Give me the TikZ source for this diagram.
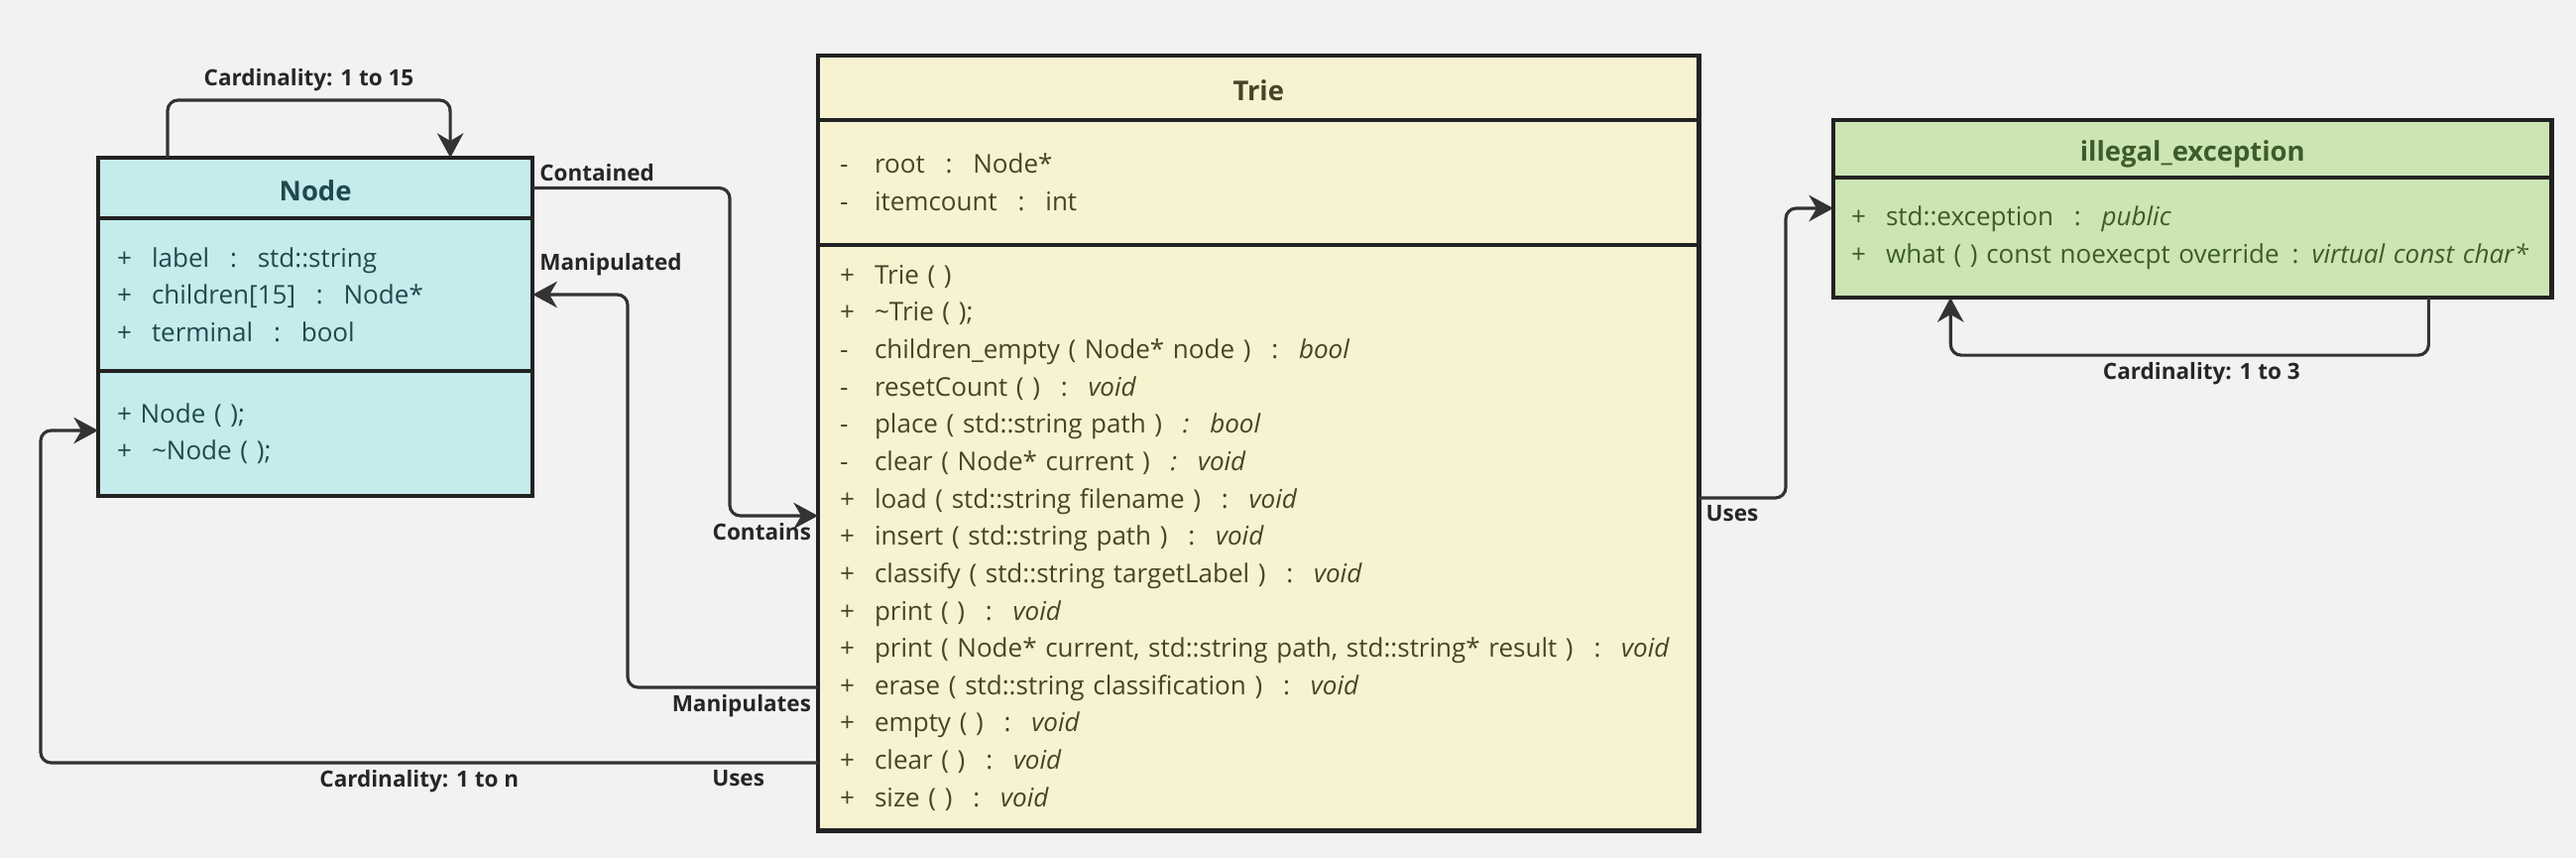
\documentclass[tikz,border=0pt]{standalone}
\usepackage{fontspec}
\setmainfont{Open Sans}
\usepackage{xcolor}
\usetikzlibrary{arrows.meta,positioning}

\definecolor{bgcol}{HTML}{F2F2F2}
\definecolor{nodefill}{HTML}{C5EBEC}
\definecolor{nodetext}{HTML}{1F4A4C}
\definecolor{triefill}{HTML}{F7F3D0}
\definecolor{trietext}{HTML}{48442A}
\definecolor{excfill}{HTML}{CCE5B3}
\definecolor{exctext}{HTML}{3D5C2B}
\definecolor{linkcol}{HTML}{333333}
\definecolor{edgecol}{HTML}{222222}

\newcommand{\vis}[1]{\makebox[0.35cm][l]{#1}}
\newcommand{\ty}[1][0.8em]{\hspace{#1}:\hspace{#1}}
\newcommand{\tyit}{\hspace{0.8em}\textit{:}\hspace{0.8em}}

\begin{document}
\begin{tikzpicture}[x=0.01cm, y=-0.01cm,
    every node/.style={outer sep=0pt},
    box/.style={draw=edgecol, line width=1.2pt, inner ysep=0pt, anchor=north west},
    head/.style={box, font=\bfseries\fontsize{7.8}{9}\selectfont, align=center, text height=7.2pt, text depth=0pt},
    body/.style={box, font=\fontsize{7.4}{10.7}\selectfont, align=left},
    nodecls/.style={fill=nodefill, text=nodetext, text width=4.0cm, inner xsep=0.19cm},
    triecls/.style={fill=triefill, text=trietext, text width=8.44cm, inner xsep=0.22cm},
    exccls/.style={fill=excfill, text=exctext, text width=6.88cm, inner xsep=0.18cm},
    link/.style={draw=linkcol, line width=0.9pt, rounded corners=3pt, -{Stealth[length=7pt, width=7.5pt, inset=2.2pt]}},
    tag/.style={font=\bfseries\fontsize{6.4}{8}\selectfont, text=black!85, inner sep=2pt}
]
    % Background
    \fill[bgcol] (0,0) rectangle (2598,865);

    % Nodes
    \node (nodeHead) [head, nodecls, minimum height=0.61cm] at (99,159) {Node};
    \node (nodeAttr) [body, nodecls, minimum height=1.54cm, below=0pt of nodeHead]
        {\vis{+}label\ty std::string\\
         \vis{+}children[15]\ty Node*\\
         \vis{+}terminal\ty bool};
    \node (nodeOps) [body, nodecls, minimum height=1.26cm, below=0pt of nodeAttr]
        {+ Node ( );\\
         \vis{+}\textasciitilde Node ( );};

    \node (trieHead) [head, triecls, minimum height=0.65cm] at (825,56) {Trie};
    \node (trieAttr) [body, triecls, minimum height=1.26cm, below=0pt of trieHead]
        {\vis{-}root\ty Node*\\
         \vis{-}itemcount\ty int};
    \node (trieOps) [body, triecls, minimum height=5.90cm, below=0pt of trieAttr]
        {\vis{+}Trie ( )\\
         \vis{+}\textasciitilde Trie ( );\\
         \vis{-}children\_empty ( Node* node )\ty \textit{bool}\\
         \vis{-}resetCount ( )\ty \textit{void}\\
         \vis{-}place ( std::string path )\tyit \textit{bool}\\
         \vis{-}clear ( Node* current )\tyit \textit{void}\\
         \vis{+}load ( std::string filename )\ty \textit{void}\\
         \vis{+}insert ( std::string path )\ty \textit{void}\\
         \vis{+}classify ( std::string targetLabel )\ty \textit{void}\\
         \vis{+}print ( )\ty \textit{void}\\
         \vis{+}print ( Node* current, std::string path, std::string* result )\ty \textit{void}\\
         \vis{+}erase ( std::string classification )\ty \textit{void}\\
         \vis{+}empty ( )\ty \textit{void}\\
         \vis{+}clear ( )\ty \textit{void}\\
         \vis{+}size ( )\ty \textit{void}};

    \node (excHead) [head, exccls, minimum height=0.58cm] at (1849,121) {illegal\_exception};
    \node (excAttr) [body, exccls, minimum height=1.21cm, below=0pt of excHead]
        {\vis{+}std::exception\ty \textit{public}\\
         \vis{+}what ( ) const noexecpt override\ty[0.5em]\textit{virtual const char*}};

    % Arrows
    \draw[link] ([xshift=0.70cm]nodeHead.north west) -- ++(0,-58)
        -- node[tag, above, yshift=0.02cm] {Cardinality: 1 to 15} ++(285,0)
        -- ([xshift=3.55cm]nodeHead.north west);
    \draw[link] (nodeHead.east) node[tag, above right] {Contained}
        -| (736,520) -- (trieOps.west |- 0,520) node[tag, below left] {Contains};
    \draw[link] (trieOps.west |- 0,693) node[tag, below left] {Manipulates}
        -| (633,297) -- (nodeAttr.east |- 0,297) node[tag, above right, yshift=0.12cm] {Manipulated};
    \draw[link] (trieOps.west |- 0,769) node[tag, below left, xshift=-0.47cm] {Uses}
        -- node[tag, below, pos=0.513] {Cardinality: 1 to n} (41,769)
        -- (41,434) -- (nodeOps.west |- 0,434);
    \draw[link] (trieOps.east |- 0,502) node[tag, below right] {Uses}
        -| (1801,210) -- (excAttr.west |- 0,210);
    \draw[link] ([xshift=6.00cm]excAttr.south west) -- ++(0,58)
        -- node[tag, below, xshift=0.12cm] {Cardinality: 1 to 3} ++(-482,0)
        -- ([xshift=1.18cm]excAttr.south west);
\end{tikzpicture}
\end{document}
